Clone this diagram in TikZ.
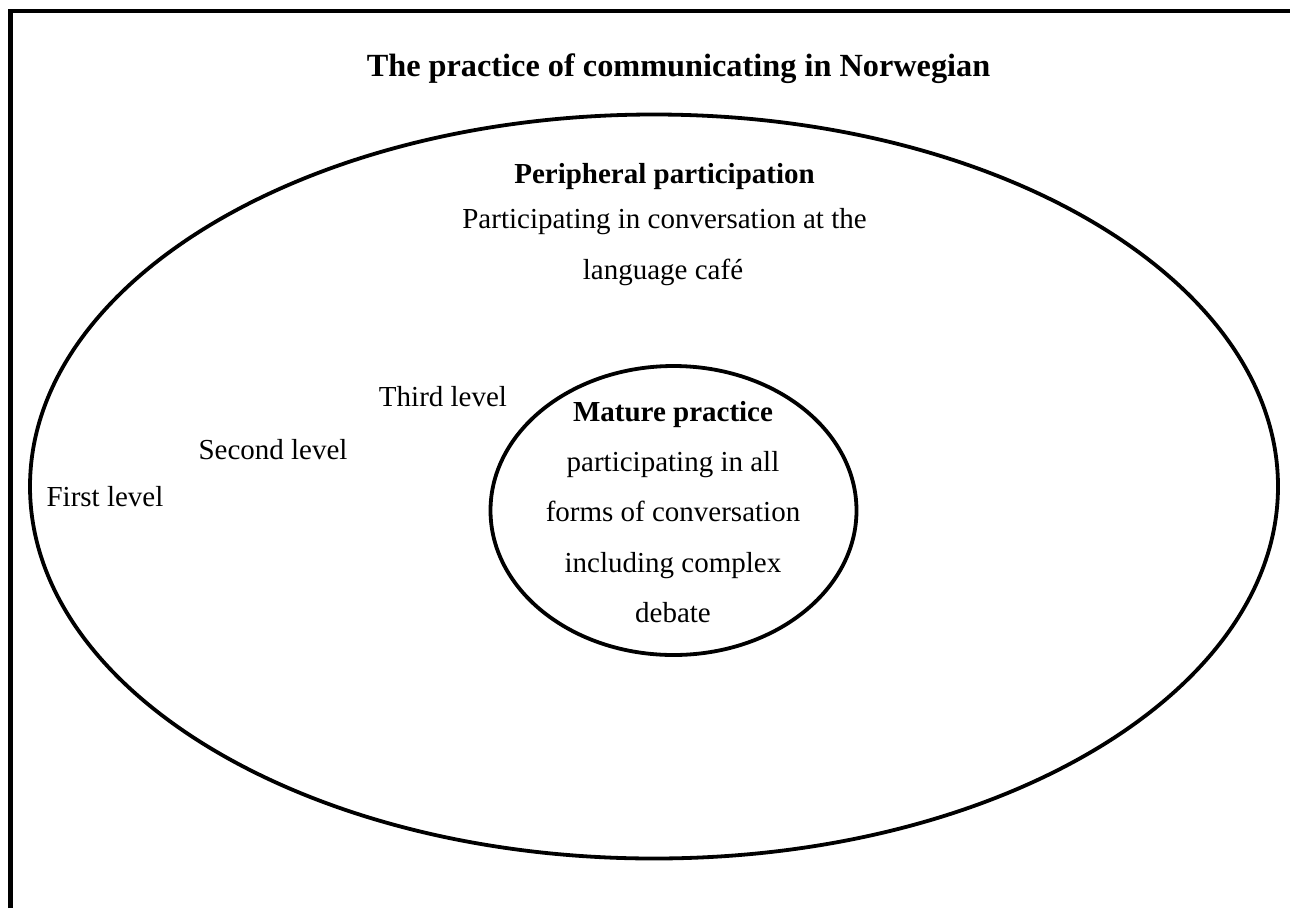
\documentclass[tikz,border=0pt]{standalone}
\usepackage{fontspec}
\setmainfont{Liberation Serif}
\begin{document}
\begin{tikzpicture}[x=1pt,y=-1pt,
  txt/.style={inner sep=0pt,anchor=base,font=\fontsize{29}{35}\selectfont},
  btxt/.style={inner sep=0pt,anchor=base,font=\fontsize{29}{35}\selectfont\bfseries},
  ring/.style={line width=3.8pt}]
\useasboundingbox (0,0) rectangle (1290,908);
\draw[line width=4.5pt] (10.5,908) -- (10.5,11) -- (1290,11);
\draw[ring] (654,486.5) ellipse [x radius=624, y radius=372];
\draw[ring] (673.5,510.5) ellipse [x radius=183, y radius=144.5];
\node[btxt,font=\fontsize{32.3}{38}\selectfont\bfseries] (title) at (678.5,76) {The practice of communicating in Norwegian};
\node[btxt] (pp) at (664.5,183) {Peripheral participation};
\node[txt] (pp1) at (664.5,228) {Participating in conversation at the};
\node[txt] (pp2) at (663,279) {language café};
\node[txt] (l3) at (443,406) {Third level};
\node[txt] (l2) at (273,459) {Second level};
\node[txt] (l1) at (105,506) {First level};
\node[btxt] (mp) at (673,421) {Mature practice};
\node[txt] (m1) at (673,471) {participating in all};
\node[txt] (m2) at (673,521) {forms of conversation};
\node[txt] (m3) at (673,572) {including complex};
\node[txt] (m4) at (673,622) {debate};
\end{tikzpicture}
\end{document}
